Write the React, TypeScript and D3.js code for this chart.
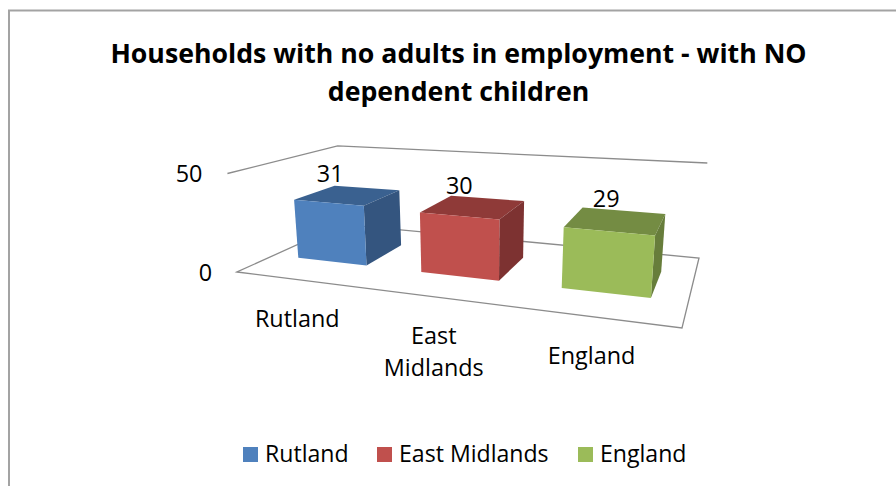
import React from "react";
import * as d3 from "d3";

const categories = ["Rutland", "East Midlands", "England"];
const values = [31, 30, 29];
const yTicks = [0, 50];
const titleLines = ["Households with no adults in employment - with NO", "dependent children"];
const categoryLabelLines = [["Rutland"], ["East", "Midlands"], ["England"]];
const faceColors = [
  { front: "#4f81bd", top: "#3a6190", side: "#34557f" },
  { front: "#c0504d", top: "#8f3a38", side: "#7d3231" },
  { front: "#9bbb59", top: "#748c43", side: "#677d3b" },
];

const FONT = "'Open Sans', sans-serif";

// Perspective floor: unit square (u along categories, v into the depth) to screen.
const A = [237, 272], B = [682, 328], C = [699, 258], D = [342, 224.4];
function makeFloor() {
  const dx1 = B[0] - C[0], dx2 = D[0] - C[0], sx = A[0] - B[0] + C[0] - D[0];
  const dy1 = B[1] - C[1], dy2 = D[1] - C[1], sy = A[1] - B[1] + C[1] - D[1];
  const den = dx1 * dy2 - dx2 * dy1;
  const g = (sx * dy2 - dx2 * sy) / den;
  const h = (dx1 * sy - sx * dy1) / den;
  const a = B[0] - A[0] + g * B[0], b = D[0] - A[0] + h * D[0];
  const d = B[1] - A[1] + g * B[1], e = D[1] - A[1] + h * D[1];
  return (u: number, v: number) => {
    const w = g * u + h * v + 1;
    return [(a * u + b * v + A[0]) / w, (d * u + e * v + A[1]) / w];
  };
}
const floor = makeFloor();
const project = (u: number, v: number, val: number) => {
  const [x, y] = floor(u, v);
  const h = val * (1.97 - 0.4 * v + 0.33 * u);
  return [x + (x - 480) * 0.0004 * h, y - h];
};

const band = d3.scaleBand<string>().domain(categories).range([0.07, 0.925]).paddingInner(0.43);
const V0 = 0.305, V1 = 0.7;
const pts = (p: number[][]) => p.map((q) => q.map((n) => n.toFixed(1)).join(",")).join(" ");
const labelX = d3.scaleLinear().domain([297, 599]).range([294, 598]);
const dataLabelX = d3.scaleLinear().domain([349, 617]).range([331, 607]);

export default function App() {
  const floorPts = [project(0, 0, 0), project(1, 0, 0), project(1, 1, 0), project(0, 1, 0)];
  const wall = d3.line()([project(0, 0, 50), project(0, 1, 50), project(1, 1, 50)] as [number, number][]) as string;
  return (
    <svg width={896} height={486} style={{ position: "absolute", left: 0, top: 0, background: "#fff" }} fontFamily={FONT} fill="#000">
      <path d="M9 486V10.5H896" fill="none" stroke="#a3a3a3" strokeWidth={2} />
      {titleLines.map((t, i) => (
        <text key={t} x={458.5} y={63 + i * 38} textAnchor="middle" fontWeight={700} fontSize={26.7}>{t}</text>
      ))}
      <polygon points={pts(floorPts)} fill="none" stroke="#8c8c8c" strokeWidth={1.3} />
      <path d={wall} fill="none" stroke="#8c8c8c" strokeWidth={1.3} />
      {yTicks.map((t) => {
        const p = project(0, 0, t);
        return <text key={t} x={p[0] - 25} y={p[1] + 8.5} textAnchor="end" fontSize={23.4}>{t}</text>;
      })}
      {categories.map((c, i) => {
        const u0 = band(c)!, u1 = u0 + band.bandwidth(), val = values[i], col = faceColors[i];
        const f = project;
        const mid = f((u0 + u1) / 2, (V0 + V1) / 2, val);
        const lab = f((u0 + u1) / 2, 0.02, 0);
        return (
          <g key={c}>
            <polygon points={pts([f(u0, V0, val), f(u1, V0, val), f(u1, V1, val), f(u0, V1, val)])} fill={col.top} />
            <polygon points={pts([f(u1, V0, 0), f(u1, V1, 0), f(u1, V1, val), f(u1, V0, val)])} fill={col.side} />
            <polygon points={pts([f(u0, V0, 0), f(u1, V0, 0), f(u1, V0, val), f(u0, V0, val)])} fill={col.front} />
            <text x={dataLabelX(mid[0])} y={mid[1] - 13} textAnchor="middle" fontSize={23.4}>{val}</text>
            {categoryLabelLines[i].map((l, j) => (
              <text key={l} x={labelX(lab[0])} y={lab[1] + 49 + j * 32} textAnchor="middle" fontSize={23.4}>{l}</text>
            ))}
          </g>
        );
      })}
      {[243, 377, 578].map((x, i) => (
        <g key={categories[i]}>
          <rect x={x} y={447} width={15} height={15} fill={faceColors[i].front} />
          <text x={x + 22} y={462} fontSize={23.1}>{categories[i]}</text>
        </g>
      ))}
    </svg>
  );
}
